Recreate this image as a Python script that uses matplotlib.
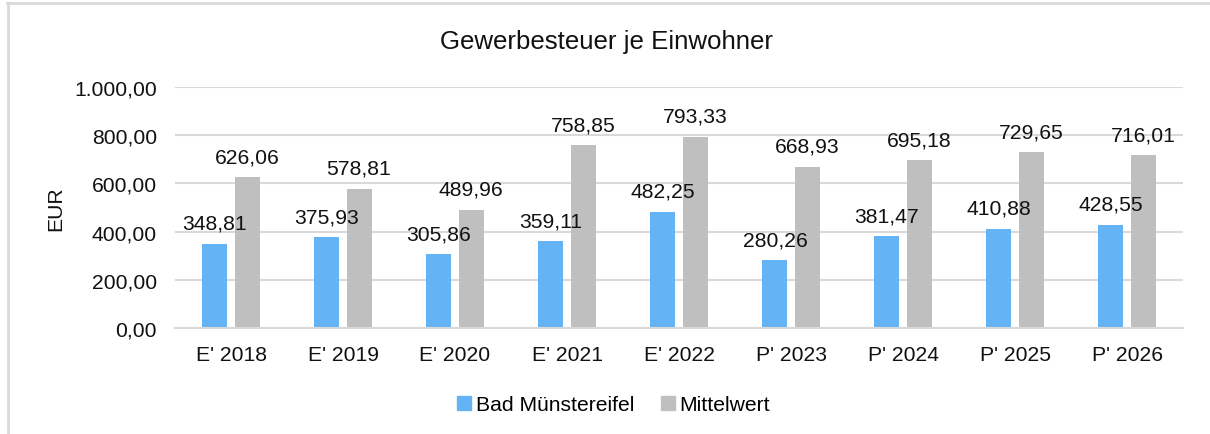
import numpy as np
import matplotlib.pyplot as plt
from matplotlib.ticker import FuncFormatter
from matplotlib.lines import Line2D

plt.rcParams['font.family'] = ['Liberation Sans', 'DejaVu Sans']

# Data
categories = ["E' 2018", "E' 2019", "E' 2020", "E' 2021", "E' 2022",
              "P' 2023", "P' 2024", "P' 2025", "P' 2026"]
bad_muenstereifel = [348.81, 375.93, 305.86, 359.11, 482.25, 280.26, 381.47, 410.88, 428.55]
mittelwert = [626.06, 578.81, 489.96, 758.85, 793.33, 668.93, 695.18, 729.65, 716.01]


def de_fmt(v, pos=None):
    s = f'{v:,.2f}'
    return s.replace(',', 'X').replace('.', ',').replace('X', '.')


fig = plt.figure( figsize=( 12.1, 4.35 ), dpi=100 )
ax = fig.add_axes( [175 / 1210, 1 - 329 / 435, (1183 - 175) / 1210, (329 - 88) / 435] )

x = np.arange( len( categories ) )
w = 0.223
off = 0.143
b1 = ax.bar( x - off, bad_muenstereifel, w, color='#63B3F5', label='Bad Münstereifel', zorder=3 )
b2 = ax.bar( x + off, mittelwert, w, color='#BFBFBF', label='Mittelwert', zorder=3 )

for bars in ( b1, b2 ):
    for rect in bars:
        h = rect.get_height()
        ax.annotate( de_fmt( h ), ( rect.get_x() + rect.get_width() / 2, h ),
                     xytext=( 0, 15 ), textcoords='offset pixels',
                     ha='center', va='baseline', fontsize=15.2, color='#111111' )

ax.set_xlim( -0.5, len( categories ) - 0.5 )
ax.set_ylim( 0, 1000 )
ax.set_yticks( np.arange( 0, 1001, 200 ) )
ax.yaxis.set_major_formatter( FuncFormatter( de_fmt ) )
ax.set_xticks( x )
ax.set_xticklabels( categories )
ax.tick_params( axis='both', length=0, labelsize=15.2, colors='#111111' )
ax.tick_params( axis='y', pad=13 )
ax.tick_params( axis='x', pad=12 )
ax.grid( axis='y', color='#D9D9D9', linewidth=1.5, zorder=0 )
for s in ( 'top', 'right', 'left' ):
    ax.spines[s].set_visible( False )
ax.spines['bottom'].set_color( '#D9D9D9' )
ax.spines['bottom'].set_linewidth( 1.5 )
ax.spines['bottom'].set_zorder( 4 )

ax.set_ylabel( 'EUR', fontsize=15.2, color='#111111' )
ax.yaxis.set_label_coords( -110 / 1008, 0.5 )

fig.text( 606 / 1210, 1 - 42 / 435, 'Gewerbesteuer je Einwohner', ha='center', va='center',
          fontsize=18.6, color='#111111' )

handles = [
    Line2D( [], [], marker='s', linestyle='none', markersize=10, color='#63B3F5' ),
    Line2D( [], [], marker='s', linestyle='none', markersize=10, color='#BFBFBF' ),
]
fig.legend( handles, ['Bad Münstereifel', 'Mittelwert'], loc='center',
            bbox_to_anchor=( 612 / 1210, 1 - 406 / 435 ), ncol=2, frameon=False,
            fontsize=15.2, handletextpad=0.05, columnspacing=1.1, handlelength=1.0 )

# outer chart frame (top and left edges visible)
fig.add_artist( Line2D( [7 / 1210, 1], [1 - 3.5 / 435, 1 - 3.5 / 435], color='#D9D9D9', linewidth=2 ) )
fig.add_artist( Line2D( [7.5 / 1210, 7.5 / 1210], [0, 1 - 3.5 / 435], color='#D9D9D9', linewidth=2 ) )

fig.savefig( 'out.png', dpi=100 )
